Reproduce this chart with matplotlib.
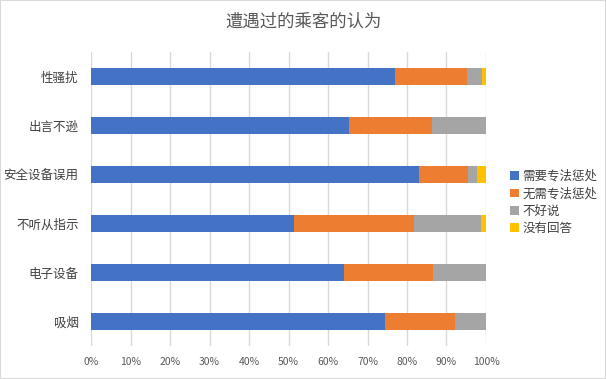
import numpy as np
import matplotlib.pyplot as plt
from matplotlib.ticker import PercentFormatter
from matplotlib.patches import Rectangle

plt.rcParams['font.family'] = ['Noto Sans CJK SC', 'DejaVu Sans']

# categories top to bottom
cats = ['性骚扰', '出言不逊', '安全设备误用', '不听从指示', '电子设备', '吸烟']
need = [76.9, 65.3, 83.0, 51.4, 64.1, 74.4]
no_need = [18.2, 21.0, 12.4, 30.3, 22.4, 17.7]
unsure = [3.8, 13.7, 2.2, 17.0, 13.5, 7.9]
no_answer = [1.1, 0.0, 2.4, 1.3, 0.0, 0.0]
series = ['需要专法惩处', '无需专法惩处', '不好说', '没有回答']
colors = ['#4472C4', '#ED7D31', '#A5A5A5', '#FFC000']

fig = plt.figure(figsize=(6.06, 3.79), dpi=100)
fig.patches.append(Rectangle((0, 0), 1, 1, transform=fig.transFigure,
                             fill=False, edgecolor='#D9D9D9', lw=1.5))
ax = fig.add_axes([91/606, 33/379, 395/606, 294/379])

y = np.arange(len(cats))
left = np.zeros(len(cats))
for vals, name, c in zip([need, no_need, unsure, no_answer], series, colors):
    v = np.array(vals) / 100
    ax.barh(y, v, left=left, height=0.357, color=c, label=name, zorder=3)
    left += v

ax.set_xlim(0, 1)
ax.set_ylim(len(cats) - 0.5, -0.5)
ax.set_yticks(y)
ax.set_yticklabels(cats, fontsize=9, color='#404040')
ax.set_xticks(np.arange(0, 1.01, 0.1))
ax.xaxis.set_major_formatter(PercentFormatter(1, decimals=0))
ax.tick_params(axis='x', length=0, pad=8, labelsize=7.5, labelcolor='#595959')
ax.tick_params(axis='y', length=0, pad=9)
ax.grid(axis='x', color='#D9D9D9', lw=1, zorder=0)
for s in ax.spines.values():
    s.set_visible(False)

fig.text(0.5, 1 - 22/379, '遭遇过的乘客的认为', ha='center', va='center',
         fontsize=12.5, color='#595959')

fig.legend(loc='upper left', bbox_to_anchor=(505/606, 1 - 165/379), frameon=False,
           fontsize=9, handlelength=0.7, handleheight=0.7, handletextpad=0.3,
           labelspacing=0.35, borderaxespad=0, labelcolor='#404040')

fig.savefig('out.png', dpi=100)
